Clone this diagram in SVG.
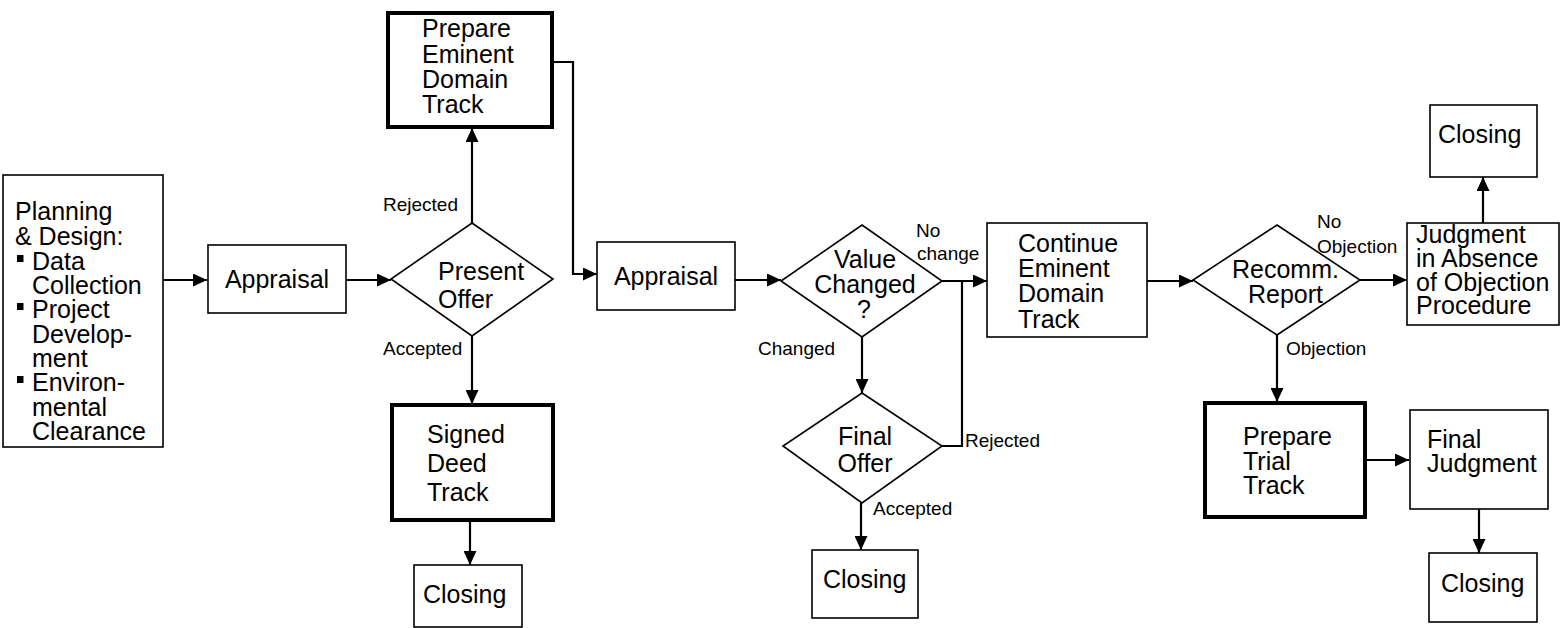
<svg xmlns="http://www.w3.org/2000/svg" width="1564" height="628" viewBox="0 0 1564 628">
  <defs>
    <marker id="arrow" viewBox="0 0 14 13" refX="14" refY="6.5" markerWidth="14" markerHeight="13" markerUnits="userSpaceOnUse" orient="auto">
      <path d="M0,0 L14,6.5 L0,13 Z" fill="#000"/>
    </marker>
    <style>
      .box { fill: #fff; stroke: #000; stroke-width: 1.6; }
      .thick { fill: #fff; stroke: #000; stroke-width: 4; }
      .dia { fill: #fff; stroke: #000; stroke-width: 1.6; }
      .t { font-family: "Liberation Sans", Arial, sans-serif; font-size: 25px; fill: #000; }
      .lbl { font-family: "Liberation Sans", Arial, sans-serif; font-size: 19px; fill: #000; }
      .conn { fill: none; stroke: #000; stroke-width: 2.2; }
      .arr { marker-end: url(#arrow); }
    </style>
  </defs>
  <rect width="1564" height="628" fill="#fff"/>

  <!-- connectors -->
  <g id="connectors">
    <line class="conn arr" x1="163" y1="280" x2="207" y2="280"/>
    <line class="conn arr" x1="346" y1="280" x2="391" y2="280"/>
    <line class="conn arr" x1="472" y1="223" x2="472" y2="128"/>
    <line class="conn arr" x1="472" y1="336" x2="472" y2="404"/>
    <line class="conn arr" x1="470" y1="521" x2="470" y2="565"/>
    <polyline class="conn arr" points="552,62 573,62 573,274 597,274"/>
    <line class="conn arr" x1="735" y1="280" x2="781" y2="280"/>
    <line class="conn arr" x1="942" y1="281" x2="987" y2="281"/>
    <polyline class="conn" points="942,446 962,446 962,281"/>
    <line class="conn arr" x1="862" y1="337" x2="862" y2="393"/>
    <line class="conn arr" x1="861" y1="503" x2="861" y2="550"/>
    <line class="conn arr" x1="1147" y1="281" x2="1193" y2="281"/>
    <line class="conn arr" x1="1360" y1="280" x2="1407" y2="280"/>
    <line class="conn arr" x1="1483" y1="223" x2="1483" y2="177"/>
    <line class="conn arr" x1="1277" y1="335" x2="1277" y2="402"/>
    <line class="conn arr" x1="1364" y1="460" x2="1409" y2="460"/>
    <line class="conn arr" x1="1479" y1="509" x2="1479" y2="553"/>
  </g>

  <!-- connector labels -->
  <g id="labels">
    <text class="lbl" x="383" y="211">Rejected</text>
    <text class="lbl" x="383" y="355">Accepted</text>
    <text class="lbl" x="916" y="237">No</text>
    <text class="lbl" x="917" y="260">change</text>
    <text class="lbl" x="758" y="355">Changed</text>
    <text class="lbl" x="965" y="447">Rejected</text>
    <text class="lbl" x="873" y="515">Accepted</text>
    <text class="lbl" x="1317" y="228">No</text>
    <text class="lbl" x="1317" y="253">Objection</text>
    <text class="lbl" x="1286" y="355">Objection</text>
  </g>

  <g id="planning">
    <rect class="box" x="3" y="175" width="160" height="272"/>
    <text class="t" x="15" y="220">Planning</text>
    <text class="t" x="15" y="245">&amp; Design:</text>
    <rect x="17" y="255" width="6.5" height="7" fill="#000"/>
    <text class="t" x="32" y="270">Data</text>
    <text class="t" x="32" y="294">Collection</text>
    <rect x="17" y="303" width="6.5" height="7" fill="#000"/>
    <text class="t" x="32" y="318">Project</text>
    <text class="t" x="32" y="343">Develop-</text>
    <text class="t" x="32" y="367">ment</text>
    <rect x="17" y="376" width="6.5" height="7" fill="#000"/>
    <text class="t" x="32" y="391">Environ-</text>
    <text class="t" x="32" y="416">mental</text>
    <text class="t" x="32" y="440">Clearance</text>
  </g>

  <g id="appraisal1">
    <rect class="box" x="208" y="245" width="138" height="68"/>
    <text class="t" x="277" y="288" text-anchor="middle">Appraisal</text>
  </g>

  <g id="present-offer">
    <polygon class="dia" points="472,223 553,279 472,336 391,279"/>
    <text class="t" x="438" y="280">Present</text>
    <text class="t" x="438" y="308">Offer</text>
  </g>

  <g id="prepare-ed">
    <rect class="thick" x="388" y="13" width="164" height="114"/>
    <text class="t" x="422" y="37">Prepare</text>
    <text class="t" x="422" y="63">Eminent</text>
    <text class="t" x="422" y="88">Domain</text>
    <text class="t" x="422" y="113">Track</text>
  </g>

  <g id="signed-deed">
    <rect class="thick" x="392" y="405" width="161" height="115"/>
    <text class="t" x="427" y="443">Signed</text>
    <text class="t" x="427" y="472">Deed</text>
    <text class="t" x="427" y="501">Track</text>
  </g>

  <g id="closing1">
    <rect class="box" x="414" y="565" width="108" height="62"/>
    <text class="t" x="423" y="603">Closing</text>
  </g>

  <g id="appraisal2">
    <rect class="box" x="597" y="242" width="138" height="68"/>
    <text class="t" x="666" y="285" text-anchor="middle">Appraisal</text>
  </g>

  <g id="value-changed">
    <polygon class="dia" points="862,225 942,281 862,337 781,281"/>
    <text class="t" x="865" y="268" text-anchor="middle">Value</text>
    <text class="t" x="865" y="293" text-anchor="middle">Changed</text>
    <text class="t" x="864" y="318" text-anchor="middle">?</text>
  </g>

  <g id="final-offer">
    <polygon class="dia" points="862,393 942,446 862,503 783,446"/>
    <text class="t" x="865" y="445" text-anchor="middle">Final</text>
    <text class="t" x="865" y="472" text-anchor="middle">Offer</text>
  </g>

  <g id="closing2">
    <rect class="box" x="812" y="550" width="106" height="68"/>
    <text class="t" x="823" y="588">Closing</text>
  </g>

  <g id="continue-ed">
    <rect class="box" x="987" y="223" width="160" height="114"/>
    <text class="t" x="1018" y="252">Continue</text>
    <text class="t" x="1018" y="277">Eminent</text>
    <text class="t" x="1018" y="302">Domain</text>
    <text class="t" x="1018" y="328">Track</text>
  </g>

  <g id="recomm-report">
    <polygon class="dia" points="1277,225 1360,280 1277,335 1193,280"/>
    <text class="t" x="1232" y="278">Recomm.</text>
    <text class="t" x="1248" y="303">Report</text>
  </g>

  <g id="judgment-absence">
    <rect class="box" x="1407" y="223" width="152" height="102"/>
    <text class="t" x="1416" y="243">Judgment</text>
    <text class="t" x="1416" y="267">in Absence</text>
    <text class="t" x="1416" y="291">of Objection</text>
    <text class="t" x="1416" y="314">Procedure</text>
  </g>

  <g id="closing3">
    <rect class="box" x="1430" y="105" width="107" height="72"/>
    <text class="t" x="1438" y="143">Closing</text>
  </g>

  <g id="prepare-trial">
    <rect class="thick" x="1205" y="403" width="160" height="114"/>
    <text class="t" x="1243" y="445">Prepare</text>
    <text class="t" x="1243" y="470">Trial</text>
    <text class="t" x="1243" y="494">Track</text>
  </g>

  <g id="final-judgment">
    <rect class="box" x="1410" y="410" width="138" height="99"/>
    <text class="t" x="1427" y="448">Final</text>
    <text class="t" x="1427" y="472">Judgment</text>
  </g>

  <g id="closing4">
    <rect class="box" x="1429" y="553" width="108" height="69"/>
    <text class="t" x="1441" y="592">Closing</text>
  </g>
</svg>
